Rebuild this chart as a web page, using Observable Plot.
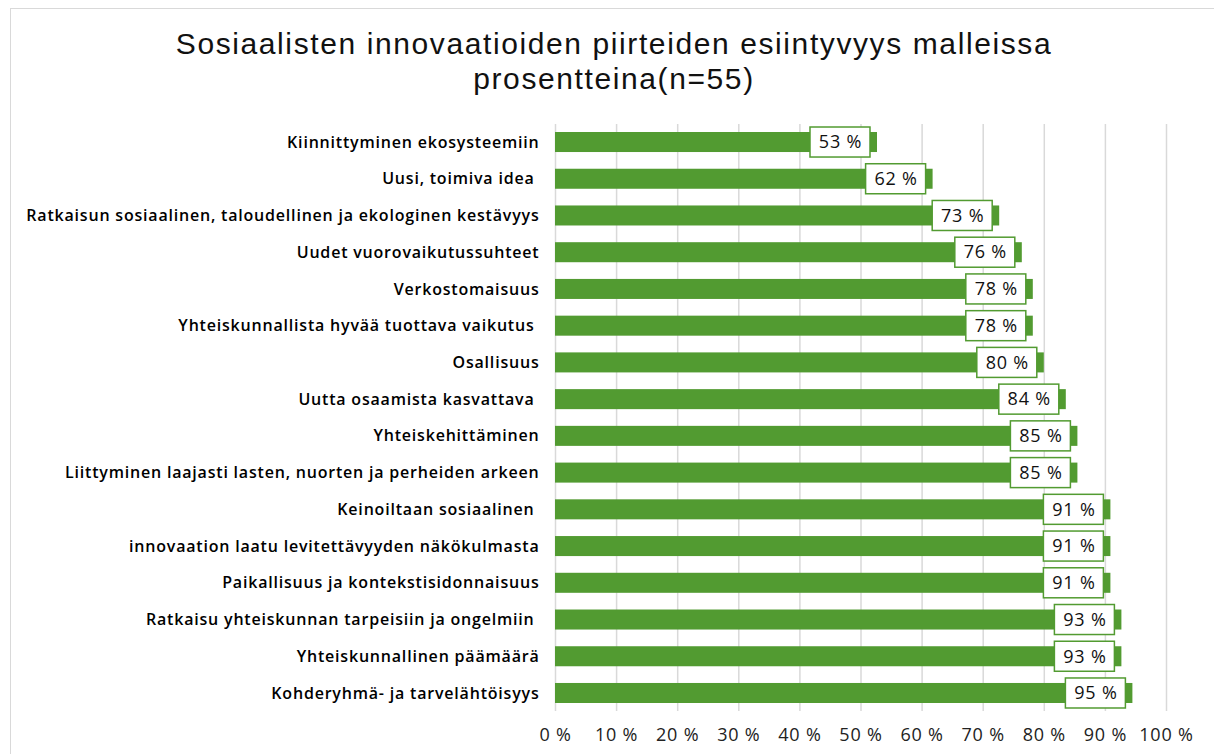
<!DOCTYPE html>
<html>
<head>
<meta charset="utf-8">
<script src="https://cdn.jsdelivr.net/npm/d3@7"></script>
<script src="https://cdn.jsdelivr.net/npm/@observablehq/plot@0.6"></script>
<style>
  html, body { margin: 0; padding: 0; background: #fff; }
  body { width: 1214px; height: 754px; position: relative; overflow: hidden; font-family: "Open Sans", sans-serif; }
  #frame { position: absolute; left: 10px; top: 8px; width: 1300px; height: 900px; border: 1.5px solid #d9d9d9; box-sizing: border-box; }
  #title { position: absolute; left: 0; top: 26px; width: 1228px; text-align: center; font-family: "Liberation Sans", Arial, sans-serif; font-size: 30px; letter-spacing: 1.6px; line-height: 35px; color: #111; }
  #chart { position: absolute; left: 0; top: 110px; }
  #chart svg text { white-space: pre; }
  #chart g[aria-label="y-axis tick label"] text { letter-spacing: 0.8px; }
  #chart g[aria-label="x-axis tick label"] text { letter-spacing: 0.8px; }
  #chart g[aria-label="text"] text { letter-spacing: 0.8px; }
</style>
</head>
<body>
<div id="frame"></div>
<div id="title">Sosiaalisten innovaatioiden piirteiden esiintyvyys malleissa<br>prosentteina(n=55)</div>
<div id="chart"></div>
<script>
const categories = [
  "Kiinnittyminen ekosysteemiin",
  "Uusi, toimiva idea ",
  "Ratkaisun sosiaalinen, taloudellinen ja ekologinen kestävyys",
  "Uudet vuorovaikutussuhteet",
  "Verkostomaisuus",
  "Yhteiskunnallista hyvää tuottava vaikutus ",
  "Osallisuus",
  "Uutta osaamista kasvattava ",
  "Yhteiskehittäminen",
  "Liittyminen laajasti lasten, nuorten ja perheiden arkeen",
  "Keinoiltaan sosiaalinen ",
  "innovaation laatu levitettävyyden näkökulmasta",
  "Paikallisuus ja kontekstisidonnaisuus",
  "Ratkaisu yhteiskunnan tarpeisiin ja ongelmiin ",
  "Yhteiskunnallinen päämäärä",
  "Kohderyhmä- ja tarvelähtöisyys"
];
const values = [52.7, 61.8, 72.7, 76.4, 78.2, 78.2, 80.0, 83.6, 85.5, 85.5, 90.9, 90.9, 90.9, 92.7, 92.7, 94.5];
const valueLabels = ["53 %", "62 %", "73 %", "76 %", "78 %", "78 %", "80 %", "84 %", "85 %", "85 %", "91 %", "91 %", "91 %", "93 %", "93 %", "95 %"];
const xTicks = [0, 10, 20, 30, 40, 50, 60, 70, 80, 90, 100];

const data = categories.map((c, i) => ({cat: c, v: values[i], lab: valueLabels[i]}));
const green = "#529B31";

const chart = Plot.plot({
  width: 1214,
  height: 644,
  marginLeft: 555,
  marginRight: 48,
  marginTop: 14,
  marginBottom: 43,
  style: {fontFamily: "Open Sans, sans-serif", background: "transparent"},
  x: {domain: [0, 100], ticks: xTicks, tickFormat: d => d + " %"},
  y: {domain: categories, paddingInner: 0.455, paddingOuter: 0.218, round: false, label: null},
  marks: [
    Plot.ruleX(xTicks, {stroke: "#d9d9d9", strokeWidth: 1.5}),
    Plot.barX(data, {x: "v", y: "cat", fill: green}),
    Plot.barX(data, {x1: "v", x2: "v", y: "cat", fill: "white", stroke: green, strokeWidth: 1.5,
      insetLeft: -67, insetRight: 7, insetTop: -5, insetBottom: -5}),
    Plot.text(data, {x: "v", y: "cat", text: "lab", dx: -37, fontSize: 18, fill: "#111"}),
    Plot.axisX({ticks: xTicks, tickFormat: d => d + " %", tickSize: 0, tickPadding: 17, fontSize: 18, label: null, fill: "#222"}),
    Plot.axisY({tickSize: 0, tickPadding: 16, fontSize: 16, fontWeight: 600, label: null, fill: "#000"})
  ]
});
document.getElementById("chart").appendChild(chart);
</script>
</body>
</html>
